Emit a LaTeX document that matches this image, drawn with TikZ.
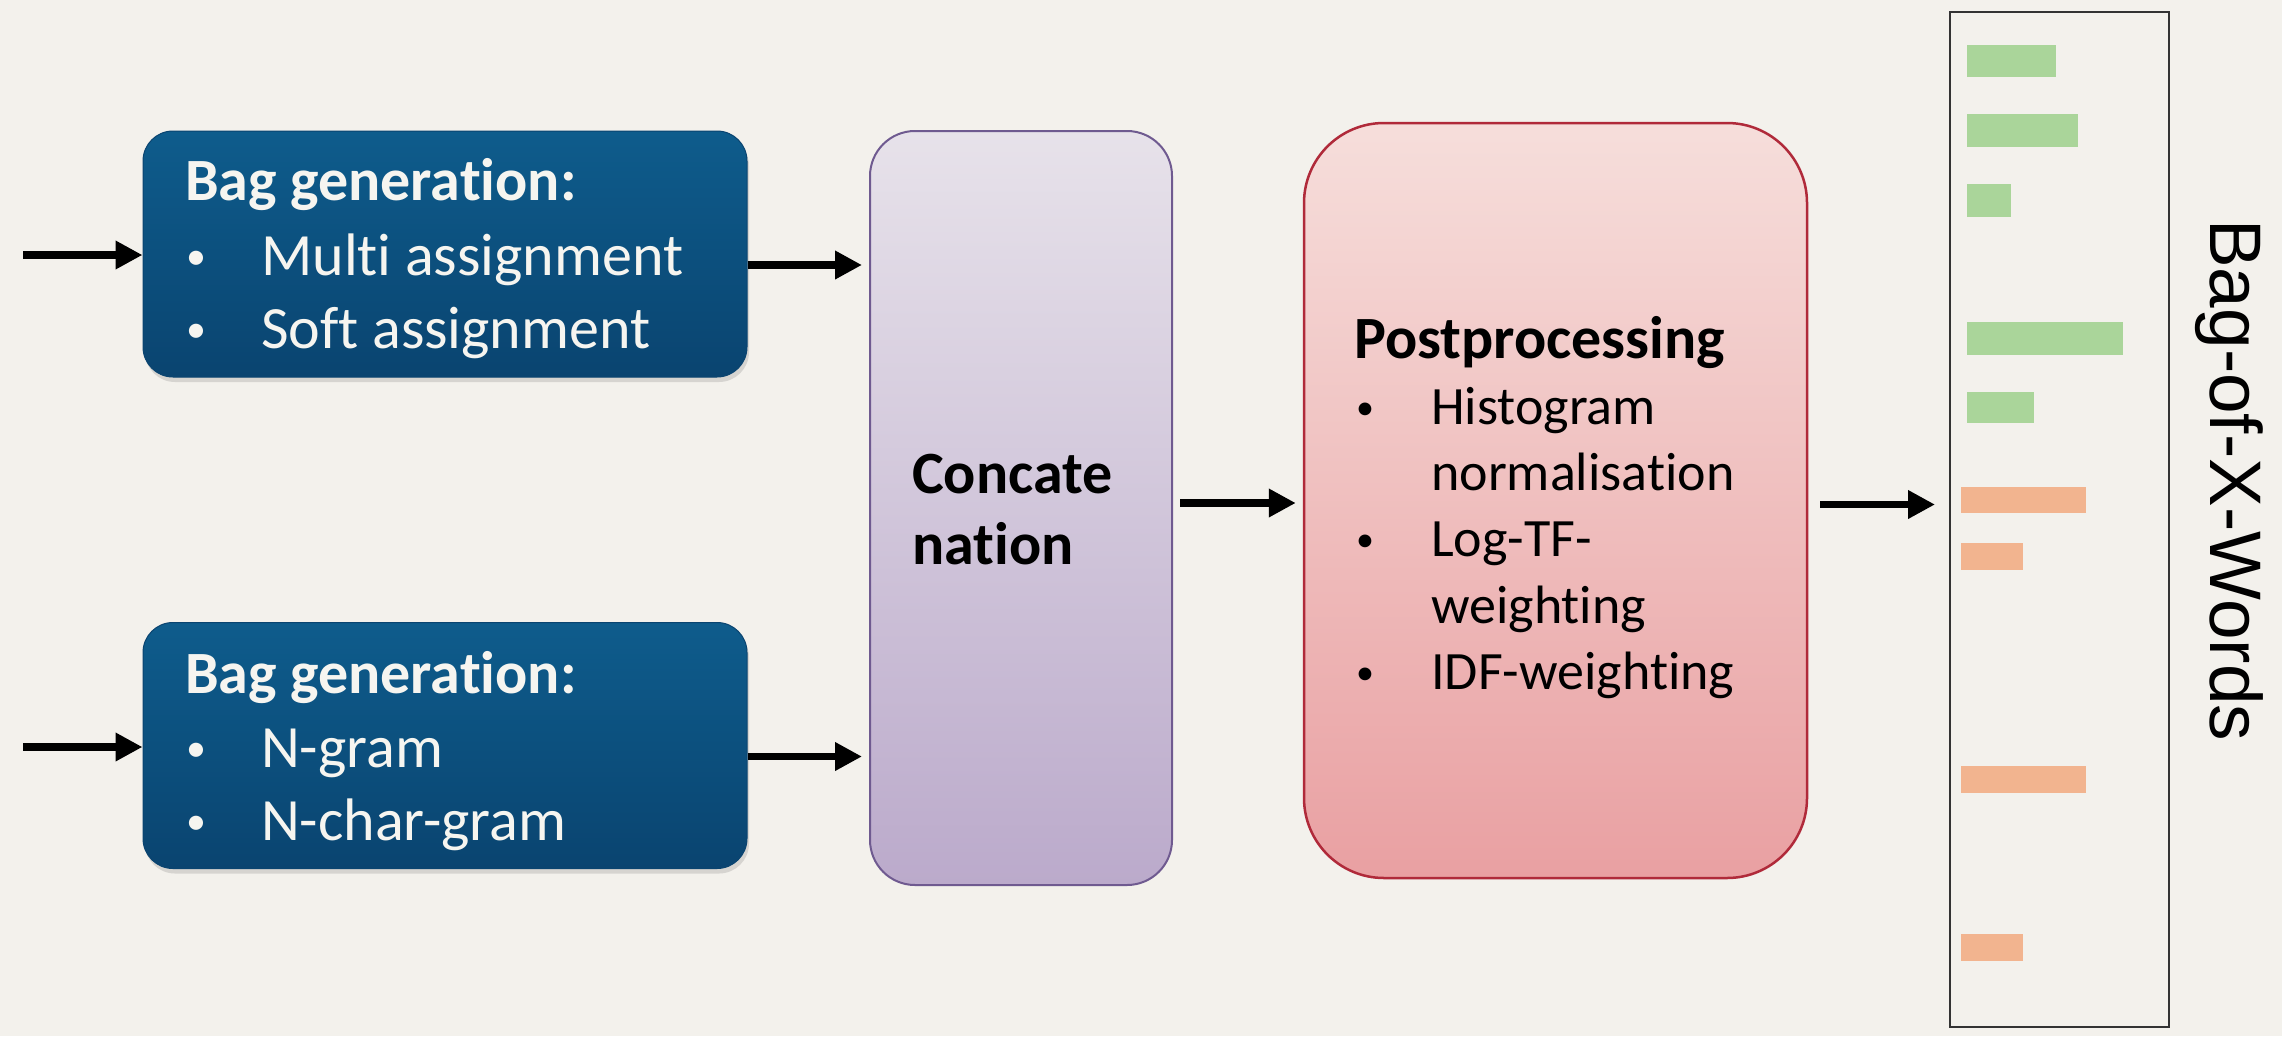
\documentclass[tikz,border=0pt]{standalone}
\usepackage{fontspec}
\setmainfont{Carlito}[Ligatures=NoCommon]
\newfontfamily\sidefont{Liberation Sans}
\usetikzlibrary{arrows.meta,shadows}

\definecolor{paper}{HTML}{F3F1EC}
\definecolor{bluetop}{HTML}{0E5C8C}
\definecolor{bluebot}{HTML}{0A4470}
\definecolor{lavtop}{HTML}{E7E2EA}
\definecolor{lavbot}{HTML}{BBAACB}
\definecolor{lavline}{HTML}{6F5A90}
\definecolor{pinktop}{HTML}{F6DEDB}
\definecolor{pinkbot}{HTML}{E9A0A2}
\definecolor{pinkline}{HTML}{B02A3A}
\definecolor{bargreen}{HTML}{AAD59A}
\definecolor{barorange}{HTML}{F2B48F}
\definecolor{lighttext}{HTML}{F6F5F0}

\tikzset{
  bagbox/.style={rectangle, rounded corners=30pt, inner sep=0pt,
    minimum width=604pt, minimum height=246pt,
    top color=bluetop, bottom color=bluebot, draw=bluebot, line width=1pt,
    drop shadow={opacity=0.25, shadow xshift=2pt, shadow yshift=-5pt}},
  catbox/.style={rectangle, rounded corners=45pt, inner sep=0pt,
    minimum width=302pt, minimum height=754pt,
    top color=lavtop, bottom color=lavbot, draw=lavline, line width=2pt},
  postbox/.style={rectangle, rounded corners=80pt, inner sep=0pt,
    minimum width=503pt, minimum height=755pt,
    top color=pinktop, bottom color=pinkbot, draw=pinkline, line width=2.5pt},
  outbox/.style={rectangle, draw=black!80, line width=2pt, inner sep=0pt,
    minimum width=219pt, minimum height=1015pt},
  txt/.style={anchor=base west, inner sep=0pt},
  headw/.style={txt, text=lighttext, font=\fontsize{60}{72}\selectfont\bfseries},
  itemw/.style={txt, text=lighttext, font=\fontsize{60}{72}\selectfont},
  dotw/.style={txt, text=lighttext, font=\fontsize{40}{48}\selectfont, yshift=6pt},
  headk/.style={txt, text=black, font=\fontsize{60}{72}\selectfont\bfseries},
  itemk/.style={txt, text=black, font=\fontsize{54}{66}\selectfont},
  dotk/.style={txt, text=black, font=\fontsize{36}{44}\selectfont, yshift=5pt},
  arr/.style={line width=7.5pt, -{Triangle[length=27pt,width=27pt]}},
}

\begin{document}
\begin{tikzpicture}[x=1pt,y=-1pt]
  % page
  \fill[paper] (0,0) rectangle (2282,1036);
  \useasboundingbox (0,0) rectangle (2282,1036);

  % boxes
  \node[bagbox]  (b1)   at (445,254)      {};
  \node[bagbox]  (b2)   at (445,745.5)    {};
  \node[catbox]  (cat)  at (1021,508)     {};
  \node[postbox] (post) at (1555.5,500.5) {};
  \node[outbox]  (bow)  at (2059.5,519.5) {};

  % upper bag generation
  \node[headw] (b1h)  at (185,200) {Bag generation:};
  \node[dotw]  (b1d1) at (186,275) {•};
  \node[itemw] (b1t1) at (261,275) {Multi assignment};
  \node[dotw]  (b1d2) at (186,348) {•};
  \node[itemw] (b1t2) at (261,348) {Soft assignment};

  % lower bag generation
  \node[headw] (b2h)  at (185,693) {Bag generation:};
  \node[dotw]  (b2d1) at (186,767) {•};
  \node[itemw] (b2t1) at (261,767) {N-gram};
  \node[dotw]  (b2d2) at (186,840) {•};
  \node[itemw] (b2t2) at (261,840) {N-char-gram};

  % concatenation
  \node[headk] (cat1) at (912,493) {Concate};
  \node[headk] (cat2) at (912,564) {nation};

  % postprocessing
  \node[headk] (ph)  at (1354,358) {Postprocessing};
  \node[dotk]  (pd1) at (1356,424) {•};
  \node[itemk] (pt1) at (1431,424) {Histogram};
  \node[itemk] (pt2) at (1431,490) {normalisation};
  \node[dotk]  (pd2) at (1356,556) {•};
  \node[itemk] (pt3) at (1431,556) {Log-TF-};
  \node[itemk] (pt4) at (1431,623) {weighting};
  \node[dotk]  (pd3) at (1356,689) {•};
  \node[itemk] (pt5) at (1431,689) {IDF-weighting};

  % histogram bars
  \fill[bargreen] (1967,45)  rectangle (2056,77);
  \fill[bargreen] (1967,114) rectangle (2078,147);
  \fill[bargreen] (1967,184) rectangle (2011,217);
  \fill[bargreen] (1967,322) rectangle (2123,355);
  \fill[bargreen] (1967,392) rectangle (2034,423);
  \fill[barorange] (1961,487) rectangle (2086,513);
  \fill[barorange] (1961,543) rectangle (2023,570);
  \fill[barorange] (1961,766) rectangle (2086,793);
  \fill[barorange] (1961,934) rectangle (2023,961);

  % side label
  \node[anchor=base west, inner sep=0pt, rotate=-90,
        font=\sidefont\fontsize{73}{82}\selectfont] (lbl) at (2210,219) {Bag-of-X-Words};

  % connectors
  \coordinate (in1) at (23,255);
  \coordinate (in2) at (23,747);
  \draw[arr] (in1) -- (in1 -| b1.west);
  \draw[arr] (in2) -- (in2 -| b2.west);
  \draw[arr, shorten >=7pt] ([yshift=-11pt]b1.east) -- ([yshift=-11pt]b1.east -| cat.west);
  \draw[arr, shorten >=7pt] ([yshift=-11pt]b2.east) -- ([yshift=-11pt]b2.east -| cat.west);
  \draw[arr, shorten <=7pt, shorten >=7pt] ([yshift=5pt]cat.east) -- ([yshift=5pt]cat.east -| post.west);
  \draw[arr, shorten <=12pt, shorten >=14pt] ([yshift=-4pt]post.east) -- ([yshift=-4pt]post.east -| bow.west);
\end{tikzpicture}
\end{document}
